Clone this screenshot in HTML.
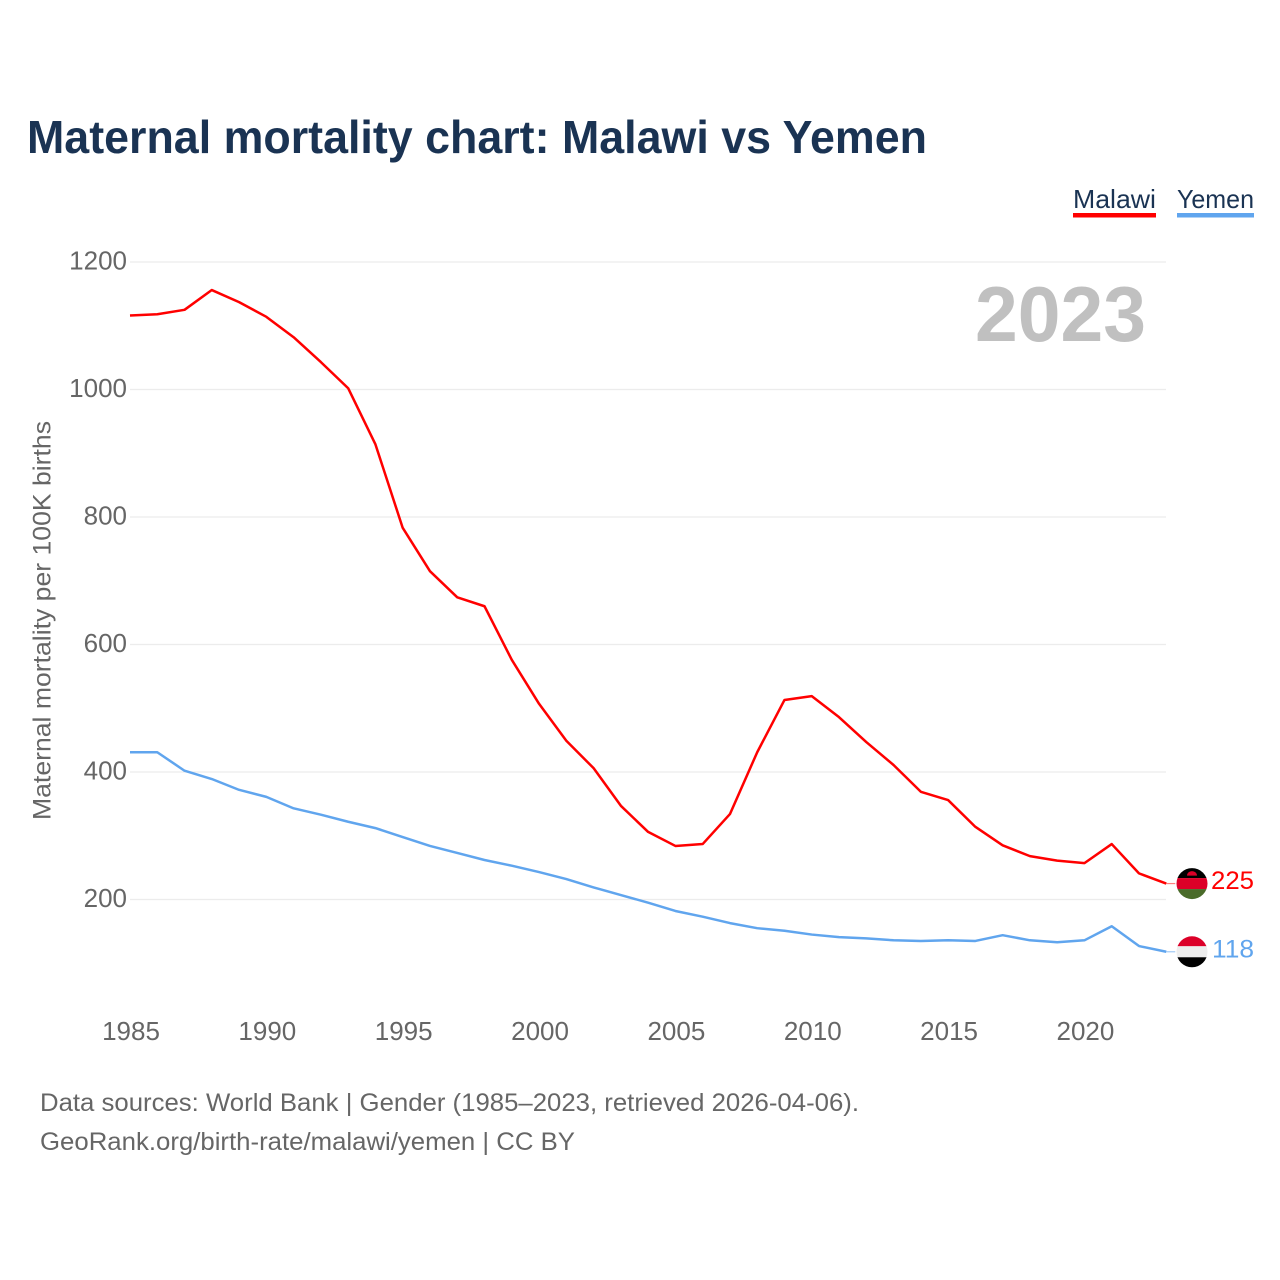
<!DOCTYPE html>
<html lang="en">
<head>
<meta charset="utf-8">
<title>Maternal mortality chart: Malawi vs Yemen</title>
<style>
html,body{margin:0;padding:0;background:#fff;width:1280px;height:1280px;overflow:hidden}
svg{display:block}
text{font-family:"Liberation Sans",sans-serif}
</style>
</head>
<body>
<svg id="chart" width="1280" height="1280" viewBox="0 0 1280 1280" xmlns="http://www.w3.org/2000/svg">
  <rect width="1280" height="1280" fill="#fff"/>
  <text x="27" y="153" font-size="46" font-weight="700" fill="#1a3353" textLength="900" lengthAdjust="spacingAndGlyphs">Maternal mortality chart: Malawi vs Yemen</text>

  <g>
    <text x="1073" y="208" font-size="26" fill="#1a3353" textLength="83" lengthAdjust="spacingAndGlyphs">Malawi</text>
    <rect x="1073" y="213" width="83" height="4.5" fill="#ff0000"/>
  </g>
  <g>
    <text x="1177" y="208" font-size="26" fill="#1a3353" textLength="77" lengthAdjust="spacingAndGlyphs">Yemen</text>
    <rect x="1177" y="213" width="77" height="4.5" fill="#60a5ee"/>
  </g>

  <g id="grid"></g>
  <g id="yticks"></g>
  <g id="xticks"></g>
  <text transform="translate(50.5,820) rotate(-90)" font-size="25" fill="#666" textLength="399" lengthAdjust="spacingAndGlyphs">Maternal mortality per 100K births</text>
  <text x="975" y="341" font-size="78" font-weight="700" fill="#c0c0c0" textLength="171" lengthAdjust="spacingAndGlyphs">2023</text>

  <polyline id="line-malawi" fill="none" stroke="#ff0000" stroke-width="2.5" stroke-linejoin="round"/>
  <polyline id="line-yemen" fill="none" stroke="#60a5ee" stroke-width="2.5" stroke-linejoin="round"/>
  <line id="leader-malawi" stroke="#ff0000" stroke-opacity="0.5" stroke-width="1.2"/>
  <line id="leader-yemen" stroke="#60a5ee" stroke-opacity="0.6" stroke-width="1.2"/>

  <defs>
    <clipPath id="clip-flag"><circle cx="0" cy="0" r="15.5"/></clipPath>
  </defs>
  <g id="flag-malawi">
    <g clip-path="url(#clip-flag)">
      <rect x="-16" y="-16" width="32" height="10.5" fill="#000"/>
      <rect x="-16" y="-5.5" width="32" height="11" fill="#dc0028"/>
      <rect x="-16" y="5.5" width="32" height="11" fill="#4a6b2a"/>
      <path d="M-5-6.5 A5 4.5 0 0 1 5-6.5 Z" fill="#dc0028" transform="translate(0,-1.5)"/>
    </g>
  </g>
  <g id="flag-yemen">
    <g clip-path="url(#clip-flag)">
      <rect x="-16" y="-16" width="32" height="10.5" fill="#dc0028"/>
      <rect x="-16" y="-5.5" width="32" height="11" fill="#ededed"/>
      <rect x="-16" y="5.5" width="32" height="11" fill="#000"/>
    </g>
  </g>
  <text id="value-malawi" x="1211" font-size="25" fill="#ff0000" textLength="43" lengthAdjust="spacingAndGlyphs"></text>
  <text id="value-yemen" x="1212" font-size="25" fill="#60a5ee" textLength="42" lengthAdjust="spacingAndGlyphs"></text>

  <text x="40" y="1111" font-size="25" fill="#666" textLength="819" lengthAdjust="spacingAndGlyphs">Data sources: World Bank | Gender (1985–2023, retrieved 2026-04-06).</text>
  <text x="40" y="1150" font-size="25" fill="#666" textLength="535" lengthAdjust="spacingAndGlyphs">GeoRank.org/birth-rate/malawi/yemen | CC BY</text>
</svg>
<script>
const years = [1985,1986,1987,1988,1989,1990,1991,1992,1993,1994,1995,1996,1997,1998,1999,2000,2001,2002,2003,2004,2005,2006,2007,2008,2009,2010,2011,2012,2013,2014,2015,2016,2017,2018,2019,2020,2021,2022,2023];
const malawi = [1116,1118,1125,1156,1137,1114,1082,1043,1002,914,783,715,674,660,576,507,449,406,347,306,284,287,334,431,513,519,486,447,411,369,356,314,285,268,261,257,287,241,225];
const yemen = [431,431,402,389,372,361,343,333,322,312,298,284,273,262,253,243,232,219,207,195,182,173,163,155,151,145,141,139,136,135,136,135,144,136,133,136,158,127,118];
const yTickValues = [200,400,600,800,1000,1200];
const xTickValues = [1985,1990,1995,2000,2005,2010,2015,2020];

const NS = 'http://www.w3.org/2000/svg';
function xScale(year){ return 130 + (year - 1985) * 27.27; }
function yScale(v){ return 1027 - v * 0.6375; }

const grid = document.getElementById('grid');
const yticks = document.getElementById('yticks');
const xticks = document.getElementById('xticks');

yTickValues.forEach(function(v){
  const l = document.createElementNS(NS,'line');
  
  
  l.setAttribute('x1', 130);
  l.setAttribute('x2', 1166);
  l.setAttribute('y1', yScale(v));
  l.setAttribute('y2', yScale(v));
  l.setAttribute('stroke', '#ececec');
  l.setAttribute('stroke-width', '1.3');
  grid.appendChild(l);
  const t = document.createElementNS(NS,'text');
  
  
  t.setAttribute('x', 127);
  t.setAttribute('y', yScale(v) + 7.5);
  t.setAttribute('text-anchor', 'end');
  t.setAttribute('font-size', '26');
  t.setAttribute('fill', '#666');
  t.textContent = v;
  yticks.appendChild(t);
});

xTickValues.forEach(function(y){
  const t = document.createElementNS(NS,'text');
  
  
  t.setAttribute('x', xScale(y) + 1);
  t.setAttribute('y', 1040);
  t.setAttribute('text-anchor', 'middle');
  t.setAttribute('font-size', '26');
  t.setAttribute('fill', '#666');
  t.textContent = y;
  xticks.appendChild(t);
});

function drawSeries(key, values){
  const pts = values.map(function(v,i){ return xScale(years[i]).toFixed(2) + ',' + yScale(v).toFixed(2); }).join(' ');
  document.getElementById('line-' + key).setAttribute('points', pts);
  const last = values[values.length - 1];
  const lx = xScale(years[years.length - 1]);
  const ly = yScale(last);
  const leader = document.getElementById('leader-' + key);
  leader.setAttribute('x1', lx);
  leader.setAttribute('x2', lx + 9);
  leader.setAttribute('y1', ly);
  leader.setAttribute('y2', ly);
  document.getElementById('flag-' + key).setAttribute('transform', 'translate(1192,' + ly + ')');
  const val = document.getElementById('value-' + key);
  val.setAttribute('y', ly + 5.5);
  val.textContent = last;
}
drawSeries('malawi', malawi);
drawSeries('yemen', yemen);
</script>
</body>
</html>
